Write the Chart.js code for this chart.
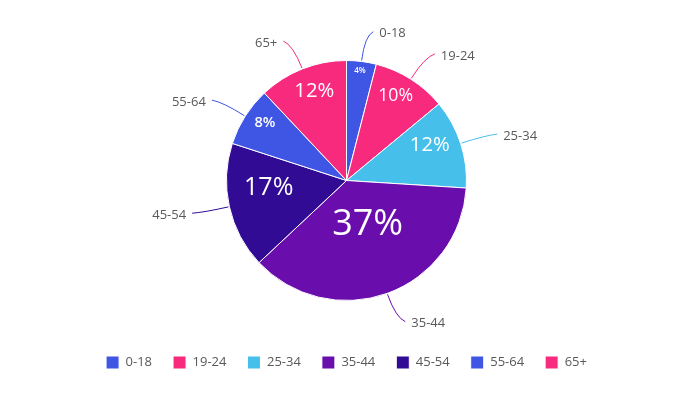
<!DOCTYPE html>
<html>
<head>
    <title>Age Groups</title>
    <script src="https://cdn.jsdelivr.net/npm/chart.js"></script>
    <style>
        * { box-sizing: border-box; margin: 0; padding: 0; }
        body { background: #ffffff; width: 693px; height: 410px; overflow: hidden; }
        .chart-container { position: relative; width: 693px; height: 410px; }
    </style>
</head>
<body>
    <div class="chart-container">
        <canvas id="ageChart"></canvas>
    </div>

    <script>
        // chart data
        const ageGroups = ['0-18', '19-24', '25-34', '35-44', '45-54', '55-64', '65+'];
        const sharePercent = [4, 10, 12, 37, 17, 8, 12];
        const sliceColors = ['#3f55e4', '#f72a7e', '#46c0ea', '#6a0dad', '#310b94', '#3f55e4', '#f72a7e'];

        const FONT = "'Open Sans', sans-serif";

        // draws leader lines, outside category labels and inside percent labels
        const sliceLabels = {
            id: 'sliceLabels',
            afterDatasetsDraw(chart) {
                const ctx = chart.ctx;
                const meta = chart.getDatasetMeta(0);
                const values = chart.data.datasets[0].data;
                ctx.save();
                meta.data.forEach((arc, i) => {
                    const p = arc.getProps(['x', 'y', 'startAngle', 'endAngle', 'outerRadius'], true);
                    const mid = (p.startAngle + p.endAngle) / 2;
                    const cx = Math.cos(mid), sy = Math.sin(mid);
                    const R = p.outerRadius;
                    const side = cx >= 0 ? 1 : -1;

                    // leader line
                    const x0 = p.x + cx * (R + 1), y0 = p.y + sy * (R + 1);
                    const xc = p.x + cx * (R + 26), yc = p.y + sy * (R + 26);
                    const x1 = p.x + cx * (R + 30) + side * 8, y1 = p.y + sy * (R + 30);
                    ctx.strokeStyle = sliceColors[i];
                    ctx.lineWidth = 1;
                    ctx.beginPath();
                    ctx.moveTo(x0, y0);
                    ctx.quadraticCurveTo(xc, yc, x1, y1);
                    ctx.stroke();

                    ctx.fillStyle = '#595959';
                    ctx.font = '13px ' + FONT;
                    ctx.textBaseline = 'middle';
                    ctx.textAlign = side > 0 ? 'left' : 'right';
                    ctx.fillText(chart.data.labels[i], x1 + side * 6, y1 + 2);

                    // percent inside slice, bigger for bigger slices
                    const v = values[i];
                    const size = Math.max(8, 9.7 * Math.log2(v) - 14.5);
                    const r = R - 1.6 * size;
                    ctx.fillStyle = '#ffffff';
                    ctx.font = (v < 10 ? '600 ' : '400 ') + size.toFixed(1) + 'px ' + FONT;
                    ctx.textAlign = 'center';
                    ctx.fillText(v + '%', p.x + cx * r, p.y + sy * r - 0.4 * size);
                });
                ctx.restore();
            }
        };

        const chart = new Chart(document.getElementById('ageChart'), {
            type: 'pie',
            data: {
                labels: ageGroups,
                datasets: [{
                    data: sharePercent,
                    backgroundColor: sliceColors,
                    borderColor: '#ffffff',
                    borderWidth: 1
                }]
            },
            options: {
                responsive: true,
                maintainAspectRatio: false,
                animation: false,
                radius: 120,
                layout: { padding: { top: 26, bottom: 31, left: 10, right: 10 } },
                plugins: {
                    tooltip: { enabled: false },
                    legend: {
                        position: 'bottom',
                        labels: {
                            boxWidth: 13,
                            boxHeight: 13,
                            padding: 21,
                            color: '#595959',
                            font: { family: FONT, size: 13 }
                        }
                    }
                }
            },
            plugins: [sliceLabels]
        });
    </script>
</body>
</html>
